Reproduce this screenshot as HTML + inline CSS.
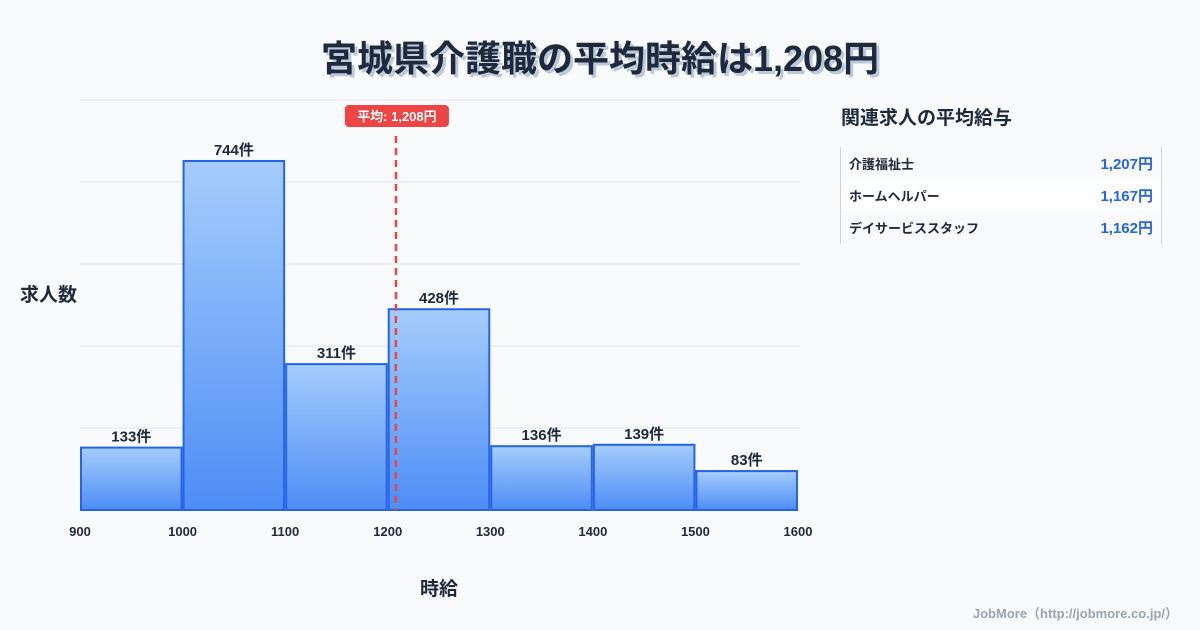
<!DOCTYPE html>
<html><head><meta charset="utf-8"><style>
body{margin:0;width:1200px;height:630px;background:#f8fafc;font-family:"Liberation Sans","Noto Sans CJK JP",sans-serif;overflow:hidden;position:relative}
.t{position:absolute}
</style></head><body>
<div class="t" style="left:0;width:1200px;top:30px;text-align:center;font-size:36px;font-weight:bold;color:#1e293b;text-shadow:3px 3px 0 #bcc8dc">宮城県介護職の平均時給は1,208円</div>
<svg class="t" style="left:0;top:0" width="1200" height="630">
<defs><linearGradient id="g" x1="0" y1="0" x2="0" y2="1"><stop offset="0" stop-color="#a5cdfc"/><stop offset="1" stop-color="#4d8df5"/></linearGradient></defs>
<g id="grid"></g><g id="bars"></g><g id="xt"></g>
</svg>
<div class="t" style="left:20px;top:280px;font-size:19px;font-weight:bold;color:#1e293b">求人数</div>
<div class="t" style="left:420px;top:574px;font-size:19px;font-weight:bold;color:#1e293b">時給</div>
<div class="t" style="left:841px;top:103px;font-size:19px;font-weight:bold;color:#1e293b">関連求人の平均給与</div>
<div class="t" style="left:840px;top:147px;width:320px;height:97px;border-left:1px solid #cbd5e1;border-right:1px solid #cbd5e1">
<div style="height:32px;display:flex;justify-content:space-between;align-items:center;padding:0 8px;font-size:13px;font-weight:bold;color:#1e293b"><span>介護福祉士</span><span style="color:#2563eb;font-size:15px">1,207円</span></div>
<div style="height:32px;background:#fff;display:flex;justify-content:space-between;align-items:center;padding:0 8px;font-size:13px;font-weight:bold;color:#1e293b"><span>ホームヘルパー</span><span style="color:#2563eb;font-size:15px">1,167円</span></div>
<div style="height:32px;display:flex;justify-content:space-between;align-items:center;padding:0 8px;font-size:13px;font-weight:bold;color:#1e293b"><span>デイサービススタッフ</span><span style="color:#2563eb;font-size:15px">1,162円</span></div>
</div>
<div class="t" style="right:22px;top:603px;font-size:13px;font-weight:bold;color:#9ca3af">JobMore（http://jobmore.co.jp/）</div>
<script>
const binStarts=[900,1000,1100,1200,1300,1400,1500];
const counts=[133,744,311,428,136,139,83];
const xTicks=[900,1000,1100,1200,1300,1400,1500,1600];
const meanValue=1208;
const yMax=874;
const NS="http://www.w3.org/2000/svg";
const X=v=>80+(v-900)*718/700, Y=v=>510-v*410/yMax;
function mk(t,a,p){const e=document.createElementNS(NS,t);for(const k in a)e.setAttribute(k,a[k]);document.getElementById(p).appendChild(e);return e;}
for(let i=0;i<=5;i++){const y=510-i*82;const l=mk('line',{x1:80,x2:800,y1:y,y2:y,stroke:'#e2e8f0','stroke-width':1},'grid');

}
binStarts.forEach((b,i)=>{const x0=X(b)+1,x1=X(b+100)-1,y=Y(counts[i]);
const r=mk('rect',{x:x0,y:y,width:x1-x0,height:510-y,fill:'url(#g)',stroke:'#2563eb','stroke-width':2},'bars');


const t=mk('text',{x:(x0+x1)/2,y:y-6,'text-anchor':'middle','font-size':15,'font-weight':'bold',fill:'#1e293b'},'bars');t.textContent=counts[i]+'件';

});
xTicks.forEach(v=>{const t=mk('text',{x:X(v),y:536,'text-anchor':'middle','font-size':13,'font-weight':'bold',fill:'#1e293b'},'xt');t.textContent=v;

});
const mx=X(meanValue);
const ml=mk('line',{x1:mx,x2:mx,y1:136,y2:510,stroke:'#ef4444','stroke-width':2.5,'stroke-dasharray':'7,5'},'xt');


const mr=mk('rect',{x:mx-51,y:105,width:104,height:22,rx:4,fill:'#ef4444'},'xt');


const mt=mk('text',{x:mx+1,y:121,'text-anchor':'middle','font-size':13,'font-weight':'bold',fill:'#fff'},'xt');mt.textContent='平均: 1,208円';


</script>
</body></html>
